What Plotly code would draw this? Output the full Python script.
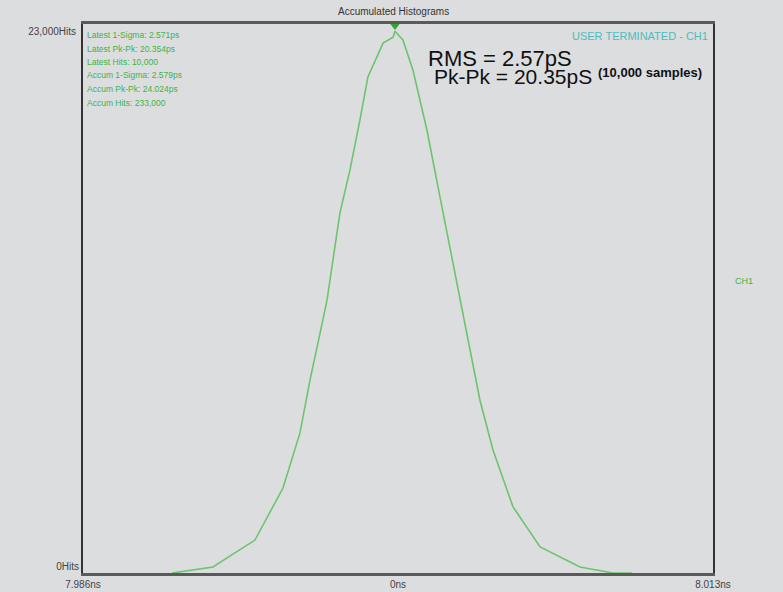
import plotly.graph_objects as go

# Histogram curve: time offset from center (ps) and hit counts
time_ps = [-9.69, -7.93, -6.13, -4.93, -4.20, -3.77, -3.34, -3.04, -2.49, -2.06,
           -1.63, -1.29, -0.64, -0.21, -0.13, 0.21, 0.64, 1.24, 1.80, 2.66,
           3.09, 3.51, 4.07, 4.93, 6.09, 7.80, 9.22, 10.03]
hits = [0, 250, 1380, 3560, 5870, 8090, 10050, 11440, 15080, 16880,
        18980, 20780, 22200, 22450, 22700, 22330, 21070, 18560, 15750, 11440,
        9340, 7250, 5150, 2770, 1090, 250, 0, 0]

peak_time = [-0.13]
peak_hits = [23000]

x_range = [-13.5, 13.5]
x_tickvals = [-13.5, 0, 13.5]
x_ticktext = ["7.986ns", "0ns", "8.013ns"]
y_range = [0, 23000]
y_top_tick = [23000]
y_top_text = ["23,000Hits"]
y_bot_tick = [0]
y_bot_text = ["0Hits"]

stats_lines = [
    "Latest 1-Sigma: 2.571ps",
    "Latest Pk-Pk: 20.354ps",
    "Latest Hits: 10,000",
    "Accum 1-Sigma: 2.579ps",
    "Accum Pk-Pk: 24.024ps",
    "Accum Hits: 233,000",
]

BG = "#dcdddf"
GREEN_LINE = "#6cc46c"
GREEN_TXT = "#3fb43f"
FONT = "Liberation Sans, Arial, sans-serif"

PLOT_H = 549
PLOT_W = 630

fig = go.Figure()
fig.add_trace(go.Scatter(
    x=time_ps, y=hits, mode="lines",
    line=dict(color=GREEN_LINE, width=1.6),
    hoverinfo="skip", showlegend=False,
))
fig.add_trace(go.Scatter(
    x=peak_time, y=peak_hits, mode="markers", yaxis="y2",
    marker=dict(symbol="triangle-down", size=12, color="#2ea82e"),
    hoverinfo="skip", showlegend=False,
))

annotations = []
for i, line in enumerate(stats_lines):
    annotations.append(dict(
        xref="paper", yref="paper", x=(85 - 83) / PLOT_W,
        y=1 - (11 + i * 13.5) / PLOT_H,
        xanchor="left", yanchor="middle", text=line, showarrow=False,
        font=dict(family=FONT, size=8.5, color=GREEN_TXT),
    ))
annotations += [
    dict(xref="paper", yref="paper", x=(393 - 83) / PLOT_W, y=1.0, yshift=5,
         xanchor="center", yanchor="bottom", text="Accumulated Histograms",
         showarrow=False, font=dict(family=FONT, size=10, color="#333333")),
    dict(xref="paper", yref="paper", x=(710 - 83) / PLOT_W, y=1 - 12 / PLOT_H,
         xanchor="right", yanchor="middle", text="USER TERMINATED - CH1",
         showarrow=False, font=dict(family=FONT, size=11, color="#4dbcbc")),
    dict(xref="paper", yref="paper", x=(426 - 83) / PLOT_W, y=1 - 34 / PLOT_H,
         xanchor="left", yanchor="middle", text="RMS = 2.57pS",
         showarrow=False, font=dict(family=FONT, size=22, color="#111111")),
    dict(xref="paper", yref="paper", x=(432 - 83) / PLOT_W, y=1 - 53 / PLOT_H,
         xanchor="left", yanchor="middle", text="Pk-Pk = 20.35pS",
         showarrow=False, font=dict(family=FONT, size=21, color="#111111")),
    dict(xref="paper", yref="paper", x=(596 - 83) / PLOT_W, y=1 - 48 / PLOT_H,
         xanchor="left", yanchor="middle", text="<b>(10,000 samples)</b>",
         showarrow=False, font=dict(family=FONT, size=13, color="#111111")),
    dict(xref="paper", yref="paper", x=(733 - 83) / PLOT_W, y=1 - 257 / PLOT_H,
         xanchor="left", yanchor="middle", text="CH1",
         showarrow=False, font=dict(family=FONT, size=9, color=GREEN_TXT)),
]

axis_font = dict(family=FONT, size=10, color="#444444")
fig.update_layout(
    width=783, height=592,
    margin=dict(l=83, r=70, t=24, b=19),
    paper_bgcolor=BG, plot_bgcolor=BG,
    showlegend=False,
    xaxis=dict(range=x_range, tickvals=x_tickvals, ticktext=x_ticktext,
               showgrid=False, zeroline=False, showline=True, mirror=True,
               linecolor="#5a5a5a", linewidth=2.5, ticks="", tickfont=axis_font,
               ticklabelstandoff=0, automargin=False, fixedrange=True),
    yaxis=dict(range=y_range, tickvals=y_top_tick, ticktext=y_top_text,
               ticklabelposition="outside bottom",
               showgrid=False, zeroline=False, showline=True, mirror=True,
               linecolor="#333333", linewidth=2, ticks="", tickfont=axis_font,
               ticklabelstandoff=3, automargin=False),
    yaxis2=dict(range=y_range, overlaying="y", side="left", anchor="x",
                tickvals=y_bot_tick, ticktext=y_bot_text,
                ticklabelposition="outside top",
                showgrid=False, zeroline=False, showline=False, ticks="",
                tickfont=axis_font, ticklabelstandoff=3, automargin=False),
    annotations=annotations,
)
fig.write_html("out.html", config={"displayModeBar": False},
               post_script="document.body.style.margin='0px';")
